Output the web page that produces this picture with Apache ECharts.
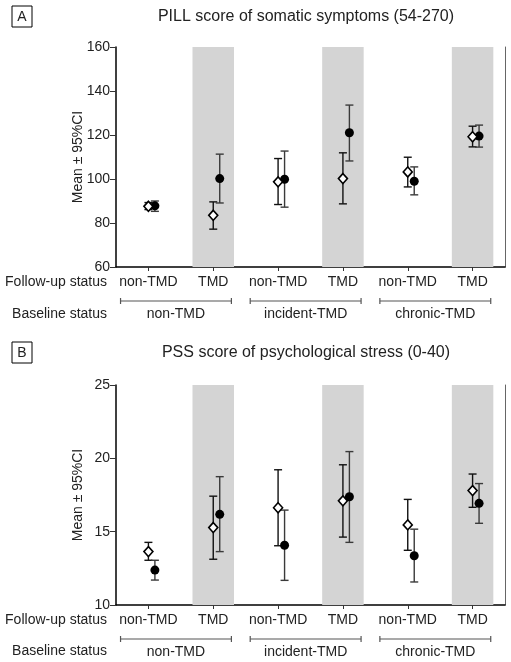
<!DOCTYPE html>
<html><head><meta charset="utf-8">
<script src="https://cdn.jsdelivr.net/npm/echarts@6/dist/echarts.min.js"></script>
<style>html,body{margin:0;padding:0;background:#fff}#c{width:511px;height:662px}</style>
</head><body><div id="c"></div>
<script>
const followUp = ['non-TMD', 'TMD', 'non-TMD', 'TMD', 'non-TMD', 'TMD'];
const baseline = ['non-TMD', 'incident-TMD', 'chronic-TMD'];
const baselineSpans = [[1, 2], [3, 4], [5, 6]];
const shaded = [2, 4, 6];
const catPos = [1, 2, 3, 4, 5, 6];

// Panel A: PILL
const pillOpenMean  = [87.6, 83.5, 98.7, 100.2, 103.2, 119.2];
const pillOpenLow   = [86.1, 77.2, 88.4, 88.7, 96.4, 114.6];
const pillOpenHigh  = [89.3, 89.6, 109.3, 111.9, 109.9, 124.0];
const pillFillMean  = [87.8, 100.2, 99.9, 121.0, 99.0, 119.5];
const pillFillLow   = [85.3, 89.1, 87.2, 108.2, 92.8, 114.5];
const pillFillHigh  = [90.0, 111.3, 112.7, 133.6, 105.5, 124.5];
const pillAxis = {min: 60, max: 160, interval: 20};

// Panel B: PSS
const pssOpenMean = [13.64, 15.28, 16.63, 17.10, 15.46, 17.80];
const pssOpenLow  = [13.05, 13.12, 14.04, 14.63, 13.73, 16.66];
const pssOpenHigh = [14.27, 17.42, 19.22, 19.56, 17.20, 18.93];
const pssFillMean = [12.38, 16.18, 14.07, 17.38, 13.36, 16.93];
const pssFillLow  = [11.70, 13.64, 11.68, 14.27, 11.57, 15.57];
const pssFillHigh = [13.05, 18.75, 16.47, 20.46, 15.17, 18.28];
const pssAxis = {min: 10, max: 25, interval: 5};

const titles = ['PILL score of somatic symptoms (54-270)', 'PSS score of psychological stress (0-40)'];
const panelLetters = ['A', 'B'];
const yName = 'Mean ± 95%CI';

const FONT = '"Liberation Sans", Arial, sans-serif';
const TXT = '#222';
const FILL_OFF = 0.1;

const chart = echarts.init(document.getElementById('c'), null, {renderer: 'canvas'});

function bandRender(ax) {
  return function (params, api) {
    const i = api.value(0);
    const p1 = api.coord([i - 0.32, ax.max]);
    const p2 = api.coord([i + 0.32, ax.min]);
    return {type: 'rect', shape: {x: p1[0], y: p1[1], width: p2[0] - p1[0], height: p2[1] - p1[1]},
      style: {fill: '#d4d4d4'}};
  };
}
function errRender(color) {
  return function (params, api) {
    const x = api.value(0), lo = api.value(1), hi = api.value(2);
    const a = api.coord([x, lo]), b = api.coord([x, hi]);
    const hw = 4;
    const st = {stroke: color, lineWidth: 1.4};
    return {type: 'group', children: [
      {type: 'line', shape: {x1: a[0], y1: a[1], x2: b[0], y2: b[1]}, style: st},
      {type: 'line', shape: {x1: a[0] - hw, y1: a[1], x2: a[0] + hw, y2: a[1]}, style: st},
      {type: 'line', shape: {x1: b[0] - hw, y1: b[1], x2: b[0] + hw, y2: b[1]}, style: st}
    ]};
  };
}
function bracketRender(ax) {
  return function (params, api) {
    const a = api.coord([api.value(0) - 0.43, ax.min]);
    const b = api.coord([api.value(1) + 0.28, ax.min]);
    const y = a[1] + 34;
    const st = {stroke: '#555', lineWidth: 1.2};
    return {type: 'group', children: [
      {type: 'line', shape: {x1: a[0], y1: y, x2: b[0], y2: y}, style: st},
      {type: 'line', shape: {x1: a[0], y1: y - 3, x2: a[0], y2: y + 3}, style: st},
      {type: 'line', shape: {x1: b[0], y1: y - 3, x2: b[0], y2: y + 3}, style: st},
      {type: 'text', style: {text: baseline[params.dataIndex], x: (a[0] + b[0]) / 2, y: y + 13,
        textAlign: 'center', textVerticalAlign: 'middle', fontSize: 14, fontFamily: FONT, fill: TXT}}
    ]};
  };
}

const panels = [
  {ax: pillAxis, om: pillOpenMean, ol: pillOpenLow, oh: pillOpenHigh, fm: pillFillMean, fl: pillFillLow, fh: pillFillHigh},
  {ax: pssAxis, om: pssOpenMean, ol: pssOpenLow, oh: pssOpenHigh, fm: pssFillMean, fl: pssFillLow, fh: pssFillHigh}
];
const gridTops = [47, 385];

const grid = [], xAxis = [], yAxis = [], series = [];
panels.forEach((p, g) => {
  grid.push({left: 116, top: gridTops[g], width: 389, height: 220});
  xAxis.push({
    gridIndex: g, type: 'value', min: 0.5, max: 6.5,
    axisLine: {show: true, lineStyle: {color: '#000', width: 1.5}},
    splitLine: {show: false},
    axisTick: {show: true, customValues: catPos, length: 4, lineStyle: {color: '#333', width: 1}},
    axisLabel: {show: true, customValues: catPos, margin: 8, fontSize: 14, fontFamily: FONT, color: TXT,
      formatter: v => followUp[Math.round(v) - 1]}
  });
  yAxis.push({
    gridIndex: g, type: 'value', min: p.ax.min, max: p.ax.max, interval: p.ax.interval,
    axisLine: {show: true, lineStyle: {color: '#000', width: 1.5}},
    splitLine: {show: false},
    axisTick: {show: true, length: 6, lineStyle: {color: '#333', width: 1}},
    axisLabel: {margin: 6, fontSize: 14, fontFamily: FONT, color: TXT},
    name: yName, nameLocation: 'middle', nameGap: 31, nameMoveOverlap: false,
    nameTextStyle: {fontSize: 14, fontFamily: FONT, color: TXT}
  });
  yAxis.push({
    gridIndex: g, type: 'value', position: 'right', min: p.ax.min, max: p.ax.max,
    axisLine: {show: true, lineStyle: {color: '#666', width: 1}},
    axisTick: {show: false}, axisLabel: {show: false}, splitLine: {show: false}
  });
  const yi = g * 2;
  series.push({type: 'custom', xAxisIndex: g, yAxisIndex: yi, z: 1, silent: true,
    renderItem: bandRender(p.ax), data: shaded.map(i => [i, p.ax.min])});
  series.push({type: 'custom', xAxisIndex: g, yAxisIndex: yi, z: 2, silent: true,
    renderItem: errRender('#111'), data: catPos.map((x, k) => [x, p.ol[k], p.oh[k]])});
  series.push({type: 'custom', xAxisIndex: g, yAxisIndex: yi, z: 2, silent: true,
    renderItem: errRender('#3a3a3a'), data: catPos.map((x, k) => [x + FILL_OFF, p.fl[k], p.fh[k]])});
  series.push({type: 'scatter', xAxisIndex: g, yAxisIndex: yi, z: 4, symbol: 'diamond', symbolSize: [9, 10],
    itemStyle: {color: '#fff', borderColor: '#000', borderWidth: 1.6, opacity: 1},
    data: catPos.map((x, k) => [x, p.om[k]])});
  series.push({type: 'scatter', xAxisIndex: g, yAxisIndex: yi, z: 3, symbol: 'circle', symbolSize: 9,
    itemStyle: {color: '#000', opacity: 1},
    data: catPos.map((x, k) => [x + FILL_OFF, p.fm[k]])});
  series.push({type: 'custom', xAxisIndex: g, yAxisIndex: yi, z: 2, silent: true, clip: false,
    renderItem: bracketRender(p.ax), data: baselineSpans.map(s => [s[0], s[1]])});
});

const graphic = [];
const labelRows = [[282, 314], [620, 651]];
const titleY = [17, 353];
const boxY = [6, 342];
[0, 1].forEach(g => {
  graphic.push({type: 'text', x: 107, y: labelRows[g][0],
    style: {text: 'Follow-up status', textAlign: 'right', textVerticalAlign: 'middle', fontSize: 14, fontFamily: FONT, fill: TXT}});
  graphic.push({type: 'text', x: 107, y: labelRows[g][1],
    style: {text: 'Baseline status', textAlign: 'right', textVerticalAlign: 'middle', fontSize: 14, fontFamily: FONT, fill: TXT}});
  graphic.push({type: 'text', x: 306, y: titleY[g],
    style: {text: titles[g], textAlign: 'center', textVerticalAlign: 'middle', fontSize: 16, fontFamily: FONT, fill: TXT}});
  graphic.push({type: 'rect', shape: {x: 12, y: boxY[g], width: 20, height: 21},
    style: {fill: '#fff', stroke: '#000', lineWidth: 1}});
  graphic.push({type: 'text', x: 22, y: boxY[g] + 11,
    style: {text: panelLetters[g], textAlign: 'center', textVerticalAlign: 'middle', fontSize: 14, fontFamily: FONT, fill: TXT}});
});

chart.setOption({
  animation: false,
  backgroundColor: '#fff',
  textStyle: {fontFamily: FONT},
  grid, xAxis, yAxis, series, graphic
});
</script></body></html>
